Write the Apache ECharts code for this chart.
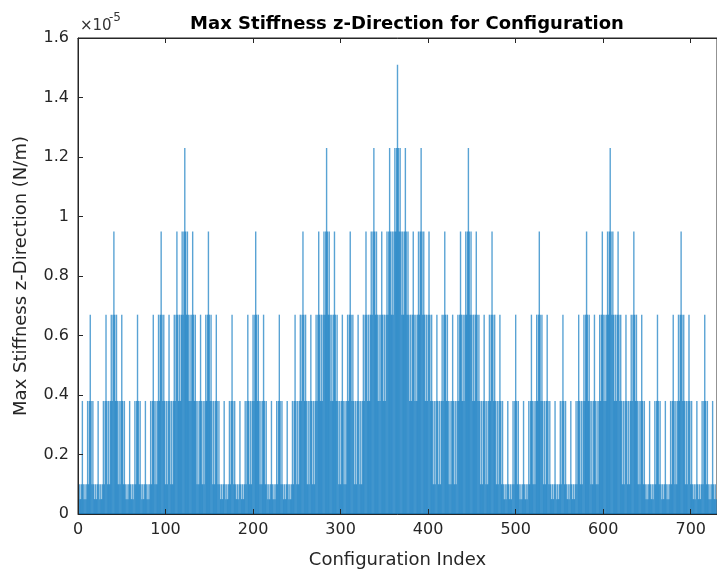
<!DOCTYPE html>
<html>
<head>
<meta charset="utf-8">
<script src="https://cdn.jsdelivr.net/npm/echarts@6/dist/echarts.min.js"></script>
<style>
  html, body { margin: 0; padding: 0; background: #fff; }
  #chart { width: 717px; height: 574px; }
</style>
</head>
<body>
<div id="chart"></div>
<script>
// bar heights come in a few discrete levels (units of 1e-5 N/m)
const levelValues = [0.05, 0.10, 0.38, 0.67, 0.95, 1.23, 1.51];

// level index of every configuration, 27 bars per row, read left to right
const levelRows = [
  '010121010121232121010121010',
  '121232121232343232121232121',
  '010121010121232121010121010',
  '121232121232343232121232121',
  '232343232343454343232343232',
  '121232121232343232121232121',
  '010121010121232121010121010',
  '121232121232343232121232121',
  '010121010121232121010121010',
  '121232121232343232121232121',
  '232343232343454343232343232',
  '121232121232343232121232121',
  '232343232343454343232343232',
  '343454343454565454343454343',
  '232343232343454343232343232',
  '121232121232343232121232121',
  '232343232343454343232343232',
  '121232121232343232121232121',
  '010121010121232121010121010',
  '121232121232343232121232121',
  '010121010121232121010121010',
  '121232121232343232121232121',
  '232343232343454343232343232',
  '121232121232343232121232121',
  '010121010121232121010121010',
  '121232121232343232121232121',
  '010121010121232121010121010'
];

const xMax = 730;
const yMax = 1.6;

const values = levelRows.join('').split('').map(c => levelValues[Number(c)]);
const barData = values.map((v, i) => [i + 1, v]);

const axisColor = '#262626';
const font = 'DejaVu Sans';

const chart = echarts.init(document.getElementById('chart'));
chart.setOption({
  animation: false,
  backgroundColor: '#fff',
  title: {
    text: 'Max Stiffness z-Direction for Configuration',
    left: 402,
    textAlign: 'center',
    top: 10,
    textStyle: { fontFamily: font, fontWeight: 'bold', fontSize: 18, color: '#000' }
  },
  grid: {
    left: 78, right: -8, top: 38, bottom: 58,
    show: true, borderColor: axisColor, borderWidth: 1, backgroundColor: 'transparent'
  },
  xAxis: [{
    type: 'value',
    min: 0, max: xMax, interval: 100,
    name: 'Configuration Index',
    nameLocation: 'middle',
    nameGap: 37,
    nameTextStyle: { fontFamily: font, fontSize: 18, color: axisColor },
    axisLine: { show: true, lineStyle: { color: axisColor } },
    axisTick: { show: true, inside: true, length: 5, lineStyle: { color: axisColor } },
    axisLabel: { fontFamily: font, fontSize: 16, color: axisColor, margin: 8, showMaxLabel: false },
    splitLine: { show: false },
    z: 10
  }, {
    type: 'value',
    position: 'top',
    min: 0, max: xMax, interval: 100,
    axisLine: { show: true, lineStyle: { color: axisColor } },
    axisTick: { show: true, inside: true, length: 5, lineStyle: { color: axisColor } },
    axisLabel: { show: false },
    splitLine: { show: false },
    z: 10
  }],
  yAxis: {
    type: 'value',
    min: 0, max: yMax, interval: 0.2,
    name: 'Max Stiffness z-Direction (N/m)',
    nameLocation: 'middle',
    nameRotate: 90,
    nameGap: 48,
    nameTextStyle: { fontFamily: font, fontSize: 18, color: axisColor },
    axisLine: { show: true, lineStyle: { color: axisColor } },
    axisTick: { show: true, inside: true, length: 5, lineStyle: { color: axisColor } },
    axisLabel: { fontFamily: font, fontSize: 16, color: axisColor, margin: 9 },
    splitLine: { show: false },
    z: 10
  },
  graphic: [
    { type: 'text', left: 80, top: 19, style: { text: '×10', fontFamily: font, fontSize: 15, fill: '#333' } },
    { type: 'text', left: 109, top: 12, style: { text: '-5', fontFamily: font, fontSize: 12, fill: '#333' } }
  ],
  series: [{
    type: 'bar',
    data: barData,
    barWidth: 1.4,
    itemStyle: { color: '#0072BD', opacity: 0.65 },
    emphasis: { disabled: true }
  }]
});
</script>
</body>
</html>
